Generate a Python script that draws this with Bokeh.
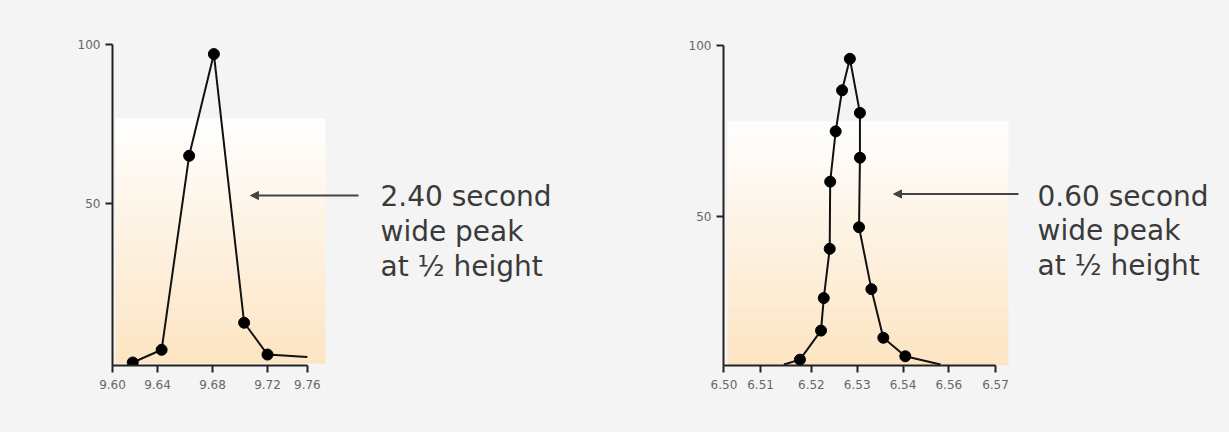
from bokeh.plotting import figure
from bokeh.models import Range1d, FixedTicker, Label, Arrow, NormalHead
from bokeh.layouts import row
from bokeh.embed import file_html
from bokeh.resources import INLINE

# ---------------- data ----------------
left_rt = [9.622, 9.643, 9.663, 9.681, 9.703, 9.720]
left_int = [0.0, 4.0, 65.0, 97.0, 12.5, 2.5]
left_tail_rt = [9.720, 9.749]
left_tail_int = [2.5, 1.7]
left_tick_pos = [9.6073, 9.64, 9.68, 9.72, 9.749]
left_tick_labels = ["9.60", "9.64", "9.68", "9.72", "9.76"]
left_note = ["2.40 second", "wide peak", "at \u00bd height"]

right_rt = [6.5175, 6.5221, 6.5227, 6.5240, 6.5241, 6.5253, 6.5267, 6.5284,
            6.5306, 6.5306, 6.5304, 6.5331, 6.5357, 6.5405]
right_int = [8.2, 16.7, 26.2, 40.6, 60.2, 74.9, 86.9, 96.1,
             80.3, 67.2, 46.9, 28.8, 14.6, 9.2]
right_lead_rt = [6.5140, 6.5175]
right_lead_int = [6.8, 8.2]
right_tail_rt = [6.5405, 6.5482]
right_tail_int = [9.2, 6.8]
right_tick_pos = [6.5009, 6.5089, 6.52, 6.53, 6.54, 6.55, 6.5602]
right_tick_labels = ["6.50", "6.51", "6.52", "6.53", "6.54", "6.56", "6.57"]
right_note = ["0.60 second", "wide peak", "at \u00bd height"]

y_ticks = [50, 100]

BG = "#f4f4f4"
FONT = "DejaVu Sans"
H = 432


def lerp_color(c1, c2, t):
    a = [int(c1[i:i + 2], 16) for i in (1, 3, 5)]
    b = [int(c2[i:i + 2], 16) for i in (1, 3, 5)]
    return "#%02x%02x%02x" % tuple(int(round(a[k] + (b[k] - a[k]) * t)) for k in range(3))


def make_panel(cfg):
    # pixel -> data converters for this panel's layout
    def X(px):
        return cfg["x0"] + (px - cfg["x0_px"]) / cfg["xs"]

    def Y(py):
        return (cfg["y0_px"] - py) / cfg["ys"]

    fl, fr, ft, fb = cfg["frame"]
    p = figure(width=cfg["width"], height=H, output_backend="svg", toolbar_location=None,
               x_range=Range1d(X(fl), X(fr)), y_range=Range1d(Y(fb), Y(ft)),
               min_border_left=fl, min_border_right=cfg["width"] - fr,
               min_border_top=ft, min_border_bottom=H - fb)
    p.background_fill_color = BG
    p.border_fill_color = BG
    p.outline_line_color = None
    p.grid.visible = False

    # gradient backdrop (decoration)
    gl, gr, gt, gb = cfg["grad"]
    n = 60
    tops, bots, cols = [], [], []
    for i in range(n):
        t0 = gt + (gb - gt) * i / n
        t1 = gt + (gb - gt) * (i + 1) / n
        tops.append(Y(t0))
        bots.append(Y(t1))
        cols.append(lerp_color("#ffffff", "#fde4c0", (i + 0.5) / n))
    p.quad(left=[X(gl)] * n, right=[X(gr)] * n, top=tops, bottom=bots,
           fill_color=cols, line_color=None)

    # series
    xs_line = cfg["lead_x"] + cfg["x"] + cfg["tail_x"]
    ys_line = cfg["lead_y"] + cfg["y"] + cfg["tail_y"]
    p.line(xs_line, ys_line, line_color="#111111", line_width=2)
    p.scatter(cfg["x"], cfg["y"], size=11, fill_color="#000000", line_color="#000000")

    # axes
    xa = p.xaxis[0]
    xa.ticker = FixedTicker(ticks=cfg["ticks"])
    xa.major_label_overrides = {t: l for t, l in zip(cfg["ticks"], cfg["labels"])}
    xa.bounds = (cfg["ticks"][0], cfg["ticks"][-1])
    ya = p.yaxis[0]
    ya.ticker = FixedTicker(ticks=y_ticks)
    ya.bounds = (Y(fb), 100)
    for ax in (xa, ya):
        ax.axis_line_width = 2
        ax.axis_line_color = "#222222"
        ax.major_tick_line_width = 2
        ax.major_tick_line_color = "#222222"
        ax.major_tick_out = 7
        ax.major_tick_in = 0
        ax.minor_tick_line_color = None
        ax.major_label_text_font = FONT
        ax.major_label_text_font_size = "12px"
        ax.major_label_text_color = "#666666"
    xa.major_label_standoff = 7
    ya.major_label_standoff = 5

    # annotation arrow + note
    ax0, ax1, ay = cfg["arrow"]
    p.add_layout(Arrow(x_start=X(ax0), x_end=X(ax1), y_start=Y(ay), y_end=Y(ay),
                       line_color="#444444", line_width=2,
                       end=NormalHead(size=8, fill_color="#444444", line_color="#444444")))
    tx, baselines = cfg["text"]
    for line, b in zip(cfg["note"], baselines):
        p.add_layout(Label(x=X(tx), y=Y(b), text=line, text_font=FONT,
                           text_font_size="28px", text_color="#3a3a3a",
                           text_baseline="alphabetic", text_align="left"))
    return p


left_cfg = dict(
    x0=9.68, x0_px=212, xs=1375, y0_px=362, ys=3.18,
    width=614,
    frame=(112, 606, 30, 365), grad=(115, 325, 118, 363),
    x=left_rt, y=left_int, lead_x=[], lead_y=[], tail_x=left_tail_rt[1:], tail_y=left_tail_int[1:],
    ticks=left_tick_pos, labels=left_tick_labels,
    arrow=(358, 250, 195), text=(380, [196, 231, 266]), note=left_note,
)

OX = 614  # page x where the right figure starts
right_cfg = dict(
    x0=6.53, x0_px=856.7 - OX, xs=4580, y0_px=388.3, ys=3.433,
    width=615,
    frame=(723 - OX, 1225 - OX, 30, 366), grad=(727 - OX, 1008 - OX, 121, 366),
    x=right_rt, y=right_int, lead_x=right_lead_rt[:1], lead_y=right_lead_int[:1],
    tail_x=right_tail_rt[1:], tail_y=right_tail_int[1:],
    ticks=right_tick_pos, labels=right_tick_labels,
    arrow=(1018 - OX, 893 - OX, 194), text=(1037 - OX, [196, 231, 266]),
    note=right_note,
)

p = row(make_panel(left_cfg), make_panel(right_cfg), spacing=0,
        styles={"background-color": BG})
open("out.html", "w").write(file_html(p, INLINE))
